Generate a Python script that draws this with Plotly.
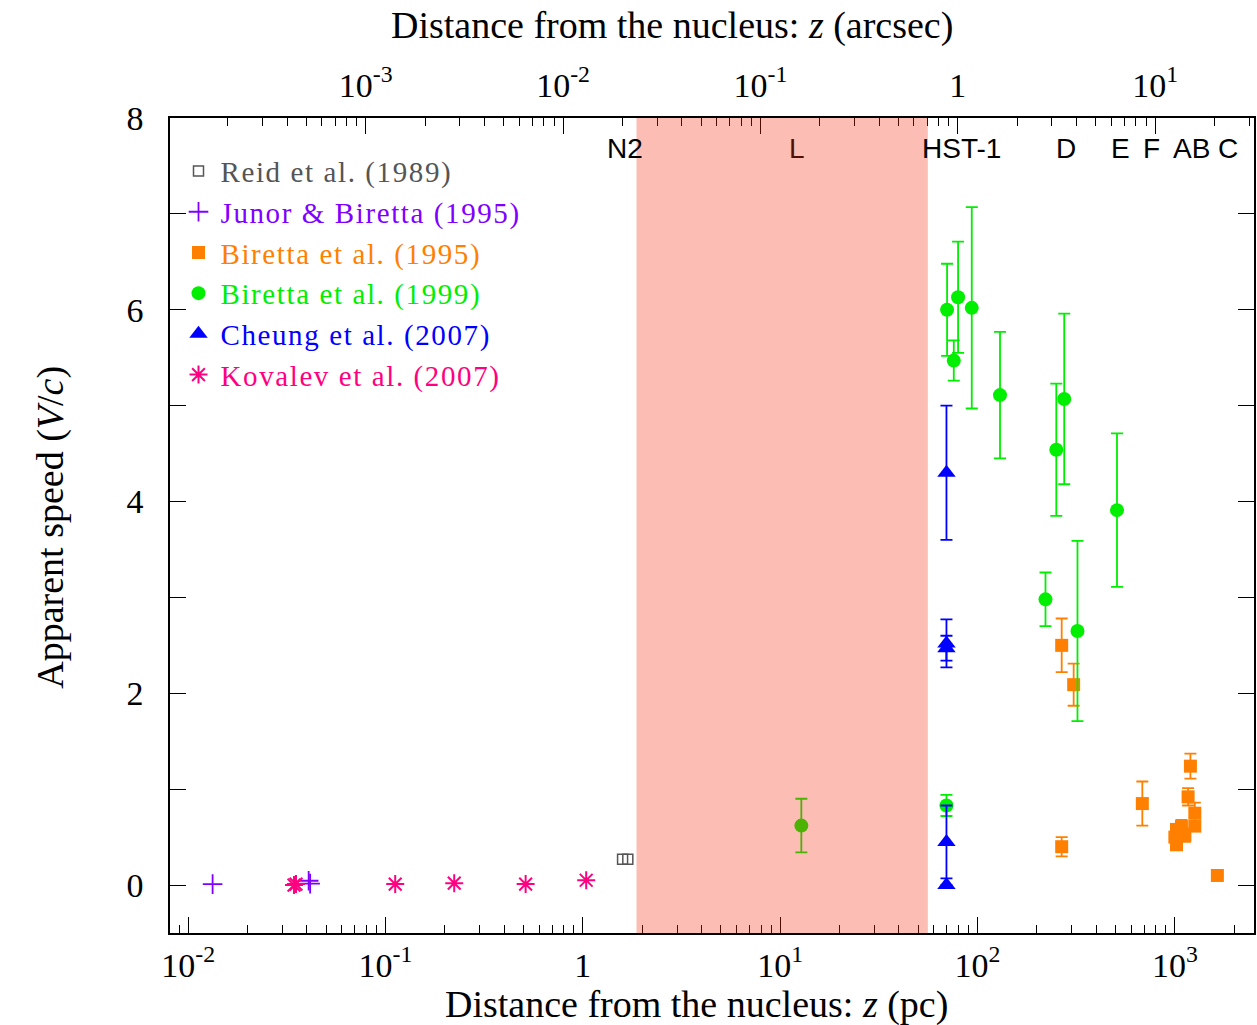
import numpy as np
import plotly.graph_objects as go

# ---------------- data ----------------
PC_PER_ARCSEC = 79.4

reid_z = [1.59, 1.69]
reid_v = [0.27, 0.27]

junor_z = [0.0133, 0.0408, 0.0415]
junor_v = [0.01, 0.045, 0.015]

b95_z = [267, 307, 267, 684, 1199, 1167, 1262, 1262, 1080, 1019, 1000, 1019, 1124, 1642]
b95_v = [2.50, 2.09, 0.40, 0.85, 1.24, 0.92, 0.75, 0.615, 0.61, 0.58, 0.50, 0.42, 0.52, 0.10]
b95_err = [0.28, 0.22, 0.10, 0.23, 0.13, 0.09, 0.11, 0.0, 0.07, 0.0, 0.0, 0.0, 0.07, 0.0]

b99_z = [12.8, 70.1, 75.8, 79.7, 93.5, 130, 250.7, 275, 221, 321, 509, 69.6]
b99_v = [0.62, 6.00, 5.47, 6.13, 6.02, 5.11, 4.54, 5.07, 2.98, 2.65, 3.91, 0.83]
b99_err = [0.28, 0.48, 0.21, 0.58, 1.05, 0.66, 0.69, 0.89, 0.28, 0.94, 0.80, 0.11]

cheung_z = [69.6, 69.6, 69.6, 69.6, 69.6]
cheung_v = [4.30, 2.52, 2.47, 0.45, 0.0]
cheung_err = [0.70, 0.25, 0.13, 0.38, 0.0]

kov_z = [0.0344, 0.0352, 0.112, 0.223, 0.513, 1.04]
kov_v = [0.0, 0.01, 0.01, 0.02, 0.01, 0.05]

feature_names = ["N2", "L", "HST-1", "D", "E", "F", "AB", "C"]
feature_pc = [1.63, 12.2, 83.2, 282, 530, 759, 1208, 1858]
feature_colors = ["black", "rgb(80,16,8)", "black", "black", "black", "black", "black", "black"]

shade_pc = [1.87, 56.0]

pc_ticks = [0.01, 0.1, 1, 10, 100, 1000]
pc_ticktext = ["10<sup>-2</sup>", "10<sup>-1</sup>", "1", "10<sup>1</sup>", "10<sup>2</sup>", "10<sup>3</sup>"]
as_ticks = [0.001, 0.01, 0.1, 1, 10]
as_ticktext = ["10<sup>-3</sup>", "10<sup>-2</sup>", "10<sup>-1</sup>", "1", "10<sup>1</sup>"]

x_title_bottom = "Distance from the nucleus: <i>z</i> (pc)"
x_title_top = "Distance from the nucleus: <i>z</i> (arcsec)"
y_title = "Apparent speed (<i>V</i>/<i>c</i>)"

x_range_log = [-2.092, 3.401]
y_range = [-0.5, 8]

# colours
C_REID = "#555555"
C_JUNOR = "#8000ff"
C_B95 = "#ff8000"
C_B99 = "#00ee00"
C_CHEUNG = "#0000ff"
C_KOV = "#ff0080"

SERIF = "Liberation Serif, Times New Roman, serif"
SANS = "Liberation Sans, Arial, Helvetica, sans-serif"


def label(text, color):
    return '<span style="color:%s;letter-spacing:1.6px">%s</span>' % (color, text)


def err(arr, color):
    return dict(type="data", array=arr, visible=True, color=color, thickness=1.8, width=6)


fig = go.Figure()

fig.add_trace(go.Scatter(
    x=reid_z, y=reid_v, mode="markers", name=label("Reid et al. (1989)", C_REID),
    marker=dict(symbol="square-open", size=10, color=C_REID, line=dict(width=1.5, color=C_REID))))

fig.add_trace(go.Scatter(
    x=junor_z, y=junor_v, mode="markers", name=label("Junor &amp; Biretta (1995)", C_JUNOR),
    marker=dict(symbol="cross-thin-open", size=14, color=C_JUNOR, line=dict(width=1.8, color=C_JUNOR))))

fig.add_trace(go.Scatter(
    x=b95_z, y=b95_v, mode="markers", name=label("Biretta et al. (1995)", C_B95),
    error_y=err(b95_err, C_B95),
    marker=dict(symbol="square", size=13, color=C_B95)))

fig.add_trace(go.Scatter(
    x=b99_z, y=b99_v, mode="markers", name=label("Biretta et al. (1999)", C_B99),
    error_y=err(b99_err, C_B99),
    marker=dict(symbol="circle", size=14, color=C_B99)))

fig.add_trace(go.Scatter(
    x=cheung_z, y=cheung_v, mode="markers", name=label("Cheung et al. (2007)", C_CHEUNG),
    error_y=err(cheung_err, C_CHEUNG),
    marker=dict(symbol="triangle-up", size=16, color=C_CHEUNG)))

fig.add_trace(go.Scatter(
    x=kov_z, y=kov_v, mode="markers", name=label("Kovalev et al. (2007)", C_KOV),
    marker=dict(symbol="asterisk-open", size=15, color=C_KOV, line=dict(width=2, color=C_KOV))))

# invisible helper trace so that the top (arcsec) axis is drawn
fig.add_trace(go.Scatter(
    x=np.array(reid_z) / PC_PER_ARCSEC, y=reid_v, xaxis="x2", yaxis="y", mode="markers",
    marker=dict(opacity=0), showlegend=False, hoverinfo="skip"))

# shaded region (drawn above, semi-transparent)
fig.add_shape(type="rect", xref="x", yref="paper", x0=shade_pc[0], x1=shade_pc[1], y0=0, y1=1,
              fillcolor="rgba(245,45,13,0.31)", line=dict(width=0), layer="above")

# feature labels
for name, pc, col in zip(feature_names, feature_pc, feature_colors):
    fig.add_annotation(x=np.log10(pc), y=0.962, xref="x", yref="paper", text=name,
                       showarrow=False, font=dict(family=SANS, size=28, color=col),
                       xanchor="center", yanchor="middle")

# axis titles
fig.add_annotation(x=0.4853, y=-0.0883, xref="paper", yref="paper", text=x_title_bottom,
                   showarrow=False, font=dict(family=SERIF, size=38), xanchor="center", yanchor="middle")
fig.add_annotation(x=0.4632, y=1.114, xref="paper", yref="paper", text=x_title_top,
                   showarrow=False, font=dict(family=SERIF, size=38), xanchor="center", yanchor="middle")
fig.add_annotation(x=-0.1105, y=0.4975, xref="paper", yref="paper", text=y_title, textangle=-90,
                   showarrow=False, font=dict(family=SERIF, size=38), xanchor="center", yanchor="middle")

minor_pc = [m * 10.0 ** e for e in range(-3, 4) for m in range(2, 10)]
minor_as = [m * 10.0 ** e for e in range(-5, 3) for m in range(2, 10)]

axis_common = dict(showline=True, linecolor="black", linewidth=1.5, showgrid=False, zeroline=False,
                   ticks="inside", tickcolor="black", tickwidth=1.3)

fig.update_layout(
    width=1257, height=1025,
    margin=dict(l=170, r=1, t=118, b=92),
    paper_bgcolor="white", plot_bgcolor="white",
    font=dict(family=SERIF, size=34, color="black"),
    showlegend=True,
    legend=dict(x=0.006, y=0.966, xanchor="left", yanchor="top", bgcolor="rgba(0,0,0,0)",
                font=dict(family=SERIF, size=29), tracegroupgap=0, itemwidth=34),
    xaxis=dict(type="log", range=x_range_log, tickmode="array", tickvals=pc_ticks, ticktext=pc_ticktext,
               ticklen=16, ticklabelstandoff=1,
               minor=dict(ticks="inside", ticklen=8, tickcolor="black", tickmode="array", tickvals=minor_pc),
               **axis_common),
    xaxis2=dict(type="log", overlaying="x", side="top", anchor="y",
                range=[x_range_log[0] - np.log10(PC_PER_ARCSEC), x_range_log[1] - np.log10(PC_PER_ARCSEC)],
                tickmode="array", tickvals=as_ticks, ticktext=as_ticktext, ticklen=16, ticklabelstandoff=6,
                minor=dict(ticks="inside", ticklen=8, tickcolor="black", tickmode="array", tickvals=minor_as),
                **axis_common),
    yaxis=dict(range=y_range, tickmode="linear", tick0=0, dtick=2, ticklen=16, mirror="allticks",
               ticklabelstandoff=18,
               minor=dict(ticks="inside", ticklen=8, tickcolor="black", dtick=1, tick0=0),
               **axis_common),
)

fig.write_html("out.html")
